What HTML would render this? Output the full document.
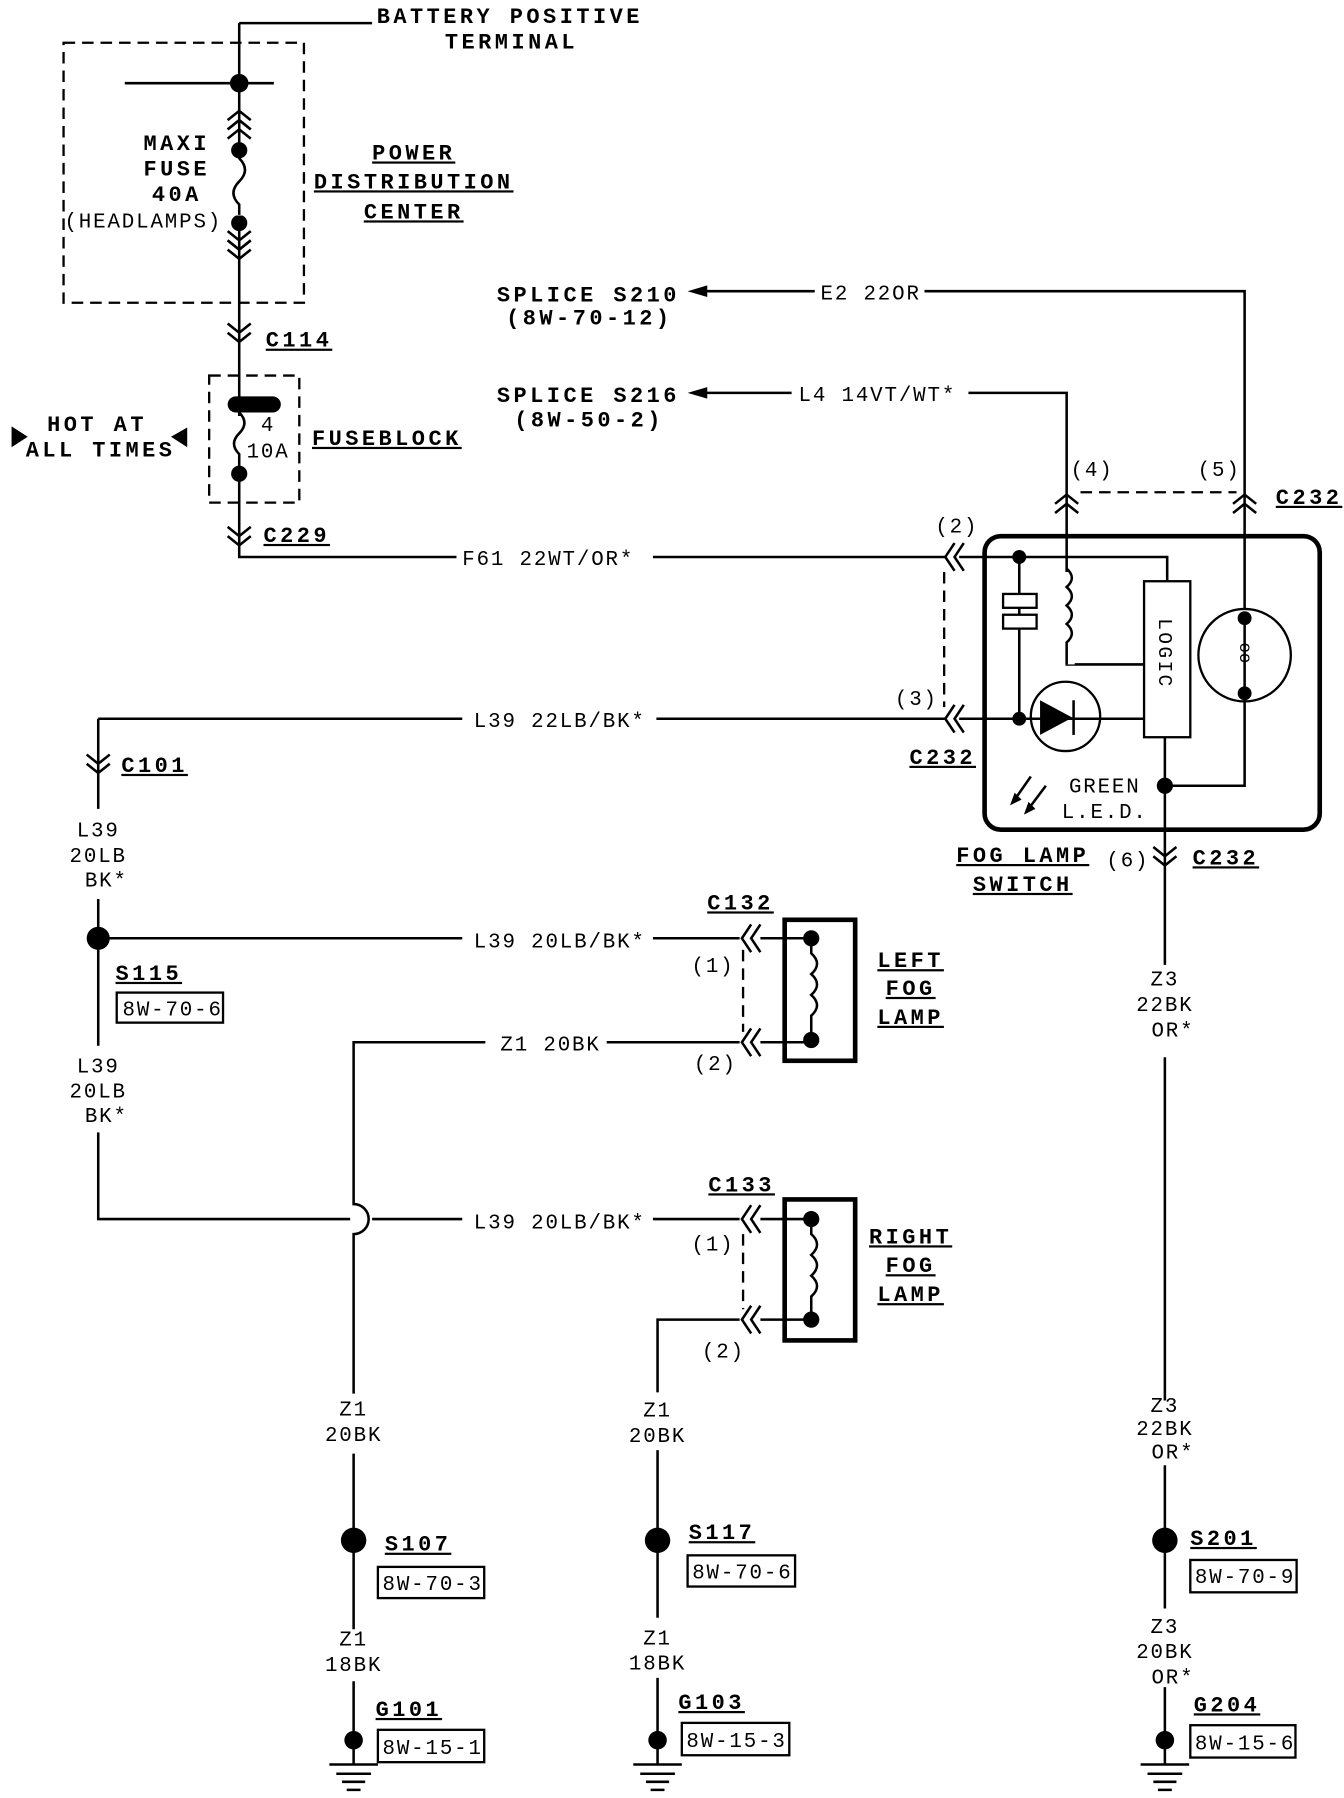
<!DOCTYPE html>
<html><head><meta charset="utf-8"><style>
html,body{margin:0;padding:0;background:#fff;}
svg{display:block;}
text{font-family:"Liberation Mono","DejaVu Sans Mono",monospace;fill:#000;}
.b{font-weight:bold;font-size:19px;letter-spacing:3px;}
.r{font-size:18px;letter-spacing:1.6px;}
.w{fill:none;stroke:#000;stroke-width:2.2;}
.d{fill:none;stroke:#000;stroke-width:2;stroke-dasharray:10 6;}
</style></head><body>
<svg width="1344" height="1798" viewBox="0 0 1163 1556" preserveAspectRatio="none" xmlns="http://www.w3.org/2000/svg">
<defs>
<g id="cd"><path class="w" d="M-10,-12 L0,-4 L10,-12 M-10,-4 L0,4 L10,-4"/></g>
<g id="cu"><path class="w" d="M-10,12 L0,4 L10,12 M-10,4 L0,-4 L10,4"/></g>
<g id="cl"><path class="w" d="M8,-12 L0,0 L8,12 M16,-12 L8,0 L16,12"/></g>
<g id="gnd"><path class="w" d="M-21,0 H21 M-15,8 H15 M-10,15 H10 M-6,22 H6" /></g>
</defs>
<path class="w" d="M207,20 H322 M207,20 V482 H395 M565,482 H818"/>
<text class="b" x="326" y="20">BATTERY POSITIVE</text>
<text class="b" x="385" y="42">TERMINAL</text>
<rect class="d" x="55" y="37" width="208" height="225"/>
<path class="w" d="M108,72 H237"/>
<circle cx="207" cy="72" r="8"/>
<use href="#cu" x="207" y="100"/><use href="#cu" x="207" y="108"/>
<circle cx="207" cy="130" r="7"/>
<circle cx="207" cy="193" r="7"/>
<path fill="#fff" stroke="#fff" d="M200,138 H214 V186 H200 Z"/>
<path class="w" d="M207,137 q10,10 0,20 q-10,10 0,20 L207,186"/>
<use href="#cd" x="207" y="212"/><use href="#cd" x="207" y="220"/>
<text class="b" x="153" y="130" text-anchor="middle">MAXI</text>
<text class="b" x="153" y="152" text-anchor="middle">FUSE</text>
<text class="b" x="153" y="174" text-anchor="middle">40A</text>
<text class="r" x="124" y="197" text-anchor="middle">(HEADLAMPS)</text>
<text class="b" x="358" y="138" text-anchor="middle" text-decoration="underline">POWER</text>
<text class="b" x="358" y="163" text-anchor="middle" text-decoration="underline">DISTRIBUTION</text>
<text class="b" x="358" y="189" text-anchor="middle" text-decoration="underline">CENTER</text>
<use href="#cd" x="207" y="292"/>
<text class="b" x="230" y="300" text-decoration="underline">C114</text>
<rect class="d" x="181" y="325" width="78" height="110"/>
<rect x="197" y="343" width="46" height="14" rx="7"/>
<rect x="200" y="360" width="14" height="42" fill="#fff"/>
<path class="w" d="M207,357 q9,9 0,18 q-9,9 0,18 L207,402"/>
<circle cx="207" cy="410" r="7"/>
<text class="r" x="232" y="373" text-anchor="middle">4</text>
<text class="r" x="232" y="396" text-anchor="middle">10A</text>
<text class="b" x="270" y="385" text-decoration="underline">FUSEBLOCK</text>
<text class="b" x="84" y="373" text-anchor="middle">HOT AT</text>
<text class="b" x="87" y="395" text-anchor="middle">ALL TIMES</text>
<path d="M10,369 L24,378 L10,387 Z"/><path d="M162,370 L148,378 L162,387 Z"/>
<use href="#cd" x="207" y="468"/>
<text class="b" x="228" y="469" text-decoration="underline">C229</text>
<text class="r" x="400" y="489">F61 22WT/OR*</text>
<text class="b" x="430" y="261">SPLICE S210</text>
<text class="b" x="438" y="281">(8W-70-12)</text>
<path d="M595,252 L612,247 L612,257 Z"/>
<path class="w" d="M600,252 H705 M800,252 H1077 V535"/>
<text class="r" x="710" y="259">E2 22OR</text>
<text class="b" x="430" y="348">SPLICE S216</text>
<text class="b" x="445" y="369">(8W-50-2)</text>
<path d="M595,340 L612,335 L612,345 Z"/>
<path class="w" d="M600,340 H685 M838,340 H923 V575 H990"/>
<text class="r" x="691" y="347">L4 14VT/WT*</text>
<text class="r" x="945" y="412" text-anchor="middle">(4)</text>
<text class="r" x="1055" y="412" text-anchor="middle">(5)</text>
<use href="#cu" x="923" y="432"/><use href="#cu" x="1077" y="432"/>
<path class="d" d="M935,426 H1070"/>
<text class="b" x="1104" y="436" text-decoration="underline">C232</text>
<rect x="852" y="464" width="290" height="254" rx="14" fill="none" stroke="#000" stroke-width="4"/>
<path class="w" d="M830,482 H1010 V503 M830,622 H990 M882,482 V622"/>
<rect x="916" y="495" width="14" height="80" fill="#fff"/>
<path class="w" d="M923,492 q9,8 0,16 q9,8 0,16 q9,8 0,16 q9,8 0,16 L923,575"/>
<rect x="868" y="514" width="29" height="12" fill="#fff" stroke="#000" stroke-width="2"/>
<rect x="868" y="532" width="29" height="12" fill="#fff" stroke="#000" stroke-width="2"/>
<circle cx="882" cy="482" r="6"/><circle cx="882" cy="622" r="6"/>
<circle cx="922" cy="620" r="30" fill="#fff" stroke="#000" stroke-width="2"/>
<path class="w" d="M892,622 H952"/>
<path d="M900,606 L900,636 L928,621 Z"/><path class="w" d="M929,606 V636"/>
<rect x="990" y="503" width="40" height="135" fill="#fff" stroke="#000" stroke-width="2"/>
<text x="1003" y="535" transform="rotate(90 1003 535)" font-size="17" letter-spacing="2">LOGIC</text>
<circle cx="1077" cy="567" r="40" fill="#fff" stroke="#000" stroke-width="2"/>
<path class="w" d="M1077,535 V600 M1077,600 V680 H1008 M1008,638 V835"/>
<circle cx="1077" cy="535" r="6"/><circle cx="1077" cy="600" r="6"/>
<text x="1066" y="571" transform="rotate(90 1077 567)" font-size="15">oo</text>
<circle cx="1008" cy="680" r="7"/>
<path class="w" d="M892,672 L878,692 M905,680 L890,700"/>
<path d="M874,697 L878,686 L884,692 Z"/><path d="M886,705 L890,694 L896,700 Z"/>
<text class="r" x="956" y="686" text-anchor="middle">GREEN</text>
<text class="r" x="956" y="708" text-anchor="middle">L.E.D.</text>
<use href="#cl" x="818" y="482"/><use href="#cl" x="818" y="622"/>
<path class="d" d="M817,495 V612"/>
<text class="r" x="828" y="461" text-anchor="middle">(2)</text>
<text class="r" x="793" y="610" text-anchor="middle">(3)</text>
<text class="b" x="787" y="661" text-decoration="underline">C232</text>
<use href="#cd" x="1008" y="745"/>
<text class="r" x="976" y="750" text-anchor="middle">(6)</text>
<text class="b" x="1032" y="748" text-decoration="underline">C232</text>
<text class="b" x="885" y="746" text-anchor="middle" text-decoration="underline">FOG LAMP</text>
<text class="b" x="885" y="771" text-anchor="middle" text-decoration="underline">SWITCH</text>
<path class="w" d="M85,622 H400 M568,622 H818 M85,622 V700"/>
<text class="r" x="410" y="629">L39 22LB/BK*</text>
<use href="#cd" x="85" y="665"/>
<text class="b" x="105" y="668" text-decoration="underline">C101</text>
<text class="r" x="85" y="724" text-anchor="middle">L39</text>
<text class="r" x="85" y="746" text-anchor="middle">20LB</text>
<text class="r" x="92" y="767" text-anchor="middle">BK*</text>
<path class="w" d="M85,778 V905 M85,980 V1055 H303 M322,1055 H400 M565,1055 H640"/>
<circle cx="85" cy="812" r="10"/>
<path class="w" d="M85,812 H400 M565,812 H640"/>
<text class="r" x="410" y="820">L39 20LB/BK*</text>
<text class="b" x="100" y="848" text-decoration="underline">S115</text>
<rect x="101" y="859" width="92" height="26" fill="none" stroke="#000" stroke-width="2"/>
<text class="r" x="106" y="879">8W-70-6</text>
<text class="r" x="85" y="928" text-anchor="middle">L39</text>
<text class="r" x="85" y="950" text-anchor="middle">20LB</text>
<text class="r" x="92" y="971" text-anchor="middle">BK*</text>
<text class="r" x="410" y="1063">L39 20LB/BK*</text>
<path class="w" d="M420,902 H306 V1042 A13,13 0 0 1 306,1068 V1206 M525,902 H640"/>
<text class="r" x="433" y="909">Z1 20BK</text>
<text class="r" x="306" y="1225" text-anchor="middle">Z1</text>
<text class="r" x="306" y="1247" text-anchor="middle">20BK</text>
<path class="w" d="M306,1258 V1410 M306,1455 V1527"/>
<circle cx="306" cy="1333" r="11"/>
<text class="b" x="333" y="1342" text-decoration="underline">S107</text>
<rect x="327" y="1356" width="92" height="27" fill="none" stroke="#000" stroke-width="2"/>
<text class="r" x="331" y="1376">8W-70-3</text>
<text class="r" x="306" y="1424" text-anchor="middle">Z1</text>
<text class="r" x="306" y="1446" text-anchor="middle">18BK</text>
<circle cx="306" cy="1506" r="8"/>
<text class="b" x="325" y="1485" text-decoration="underline">G101</text>
<rect x="327" y="1497" width="92" height="28" fill="none" stroke="#000" stroke-width="2"/>
<text class="r" x="331" y="1518">8W-15-1</text>
<use href="#gnd" x="306" y="1527"/>
<text class="b" x="612" y="787" text-decoration="underline">C132</text>
<use href="#cl" x="642" y="812"/><use href="#cl" x="642" y="902"/>
<path class="d" d="M643,822 V893"/>
<text class="r" x="617" y="841" text-anchor="middle">(1)</text>
<text class="r" x="619" y="926" text-anchor="middle">(2)</text>
<rect x="679" y="796" width="61" height="122" fill="none" stroke="#000" stroke-width="4"/>
<path class="w" d="M658,812 H702 M658,902 H702"/>
<circle cx="702" cy="812" r="7"/><circle cx="702" cy="900" r="7"/>
<path class="w" d="M702,812 V825 q10,9 0,18 q10,9 0,18 q10,9 0,18 V900"/>
<text class="b" x="788" y="837" text-anchor="middle" text-decoration="underline">LEFT</text>
<text class="b" x="788" y="861" text-anchor="middle" text-decoration="underline">FOG</text>
<text class="b" x="788" y="886" text-anchor="middle" text-decoration="underline">LAMP</text>
<text class="b" x="613" y="1031" text-decoration="underline">C133</text>
<use href="#cl" x="642" y="1055"/><use href="#cl" x="642" y="1142"/>
<path class="d" d="M643,1068 V1133"/>
<text class="r" x="617" y="1082" text-anchor="middle">(1)</text>
<text class="r" x="626" y="1175" text-anchor="middle">(2)</text>
<rect x="679" y="1038" width="61" height="122" fill="none" stroke="#000" stroke-width="4"/>
<path class="w" d="M658,1055 H702 M658,1142 H702"/>
<circle cx="702" cy="1055" r="7"/><circle cx="702" cy="1142" r="7"/>
<path class="w" d="M702,1055 V1068 q10,9 0,18 q10,9 0,18 q10,9 0,18 V1142"/>
<text class="b" x="788" y="1076" text-anchor="middle" text-decoration="underline">RIGHT</text>
<text class="b" x="788" y="1101" text-anchor="middle" text-decoration="underline">FOG</text>
<text class="b" x="788" y="1126" text-anchor="middle" text-decoration="underline">LAMP</text>
<path class="w" d="M640,1142 H569 V1205 M569,1255 V1400 M569,1452 V1527"/>
<text class="r" x="569" y="1226" text-anchor="middle">Z1</text>
<text class="r" x="569" y="1248" text-anchor="middle">20BK</text>
<circle cx="569" cy="1333" r="11"/>
<text class="b" x="596" y="1332" text-decoration="underline">S117</text>
<rect x="595" y="1346" width="93" height="27" fill="none" stroke="#000" stroke-width="2"/>
<text class="r" x="599" y="1366">8W-70-6</text>
<text class="r" x="569" y="1423" text-anchor="middle">Z1</text>
<text class="r" x="569" y="1445" text-anchor="middle">18BK</text>
<circle cx="569" cy="1506" r="8"/>
<text class="b" x="587" y="1479" text-decoration="underline">G103</text>
<rect x="590" y="1491" width="93" height="28" fill="none" stroke="#000" stroke-width="2"/>
<text class="r" x="594" y="1512">8W-15-3</text>
<use href="#gnd" x="569" y="1527"/>
<text class="r" x="1008" y="853" text-anchor="middle">Z3</text>
<text class="r" x="1008" y="875" text-anchor="middle">22BK</text>
<text class="r" x="1015" y="897" text-anchor="middle">OR*</text>
<path class="w" d="M1008,915 V1212 M1008,1268 V1392 M1008,1460 V1527"/>
<text class="r" x="1008" y="1222" text-anchor="middle">Z3</text>
<text class="r" x="1008" y="1242" text-anchor="middle">22BK</text>
<text class="r" x="1015" y="1262" text-anchor="middle">OR*</text>
<circle cx="1008" cy="1333" r="11"/>
<text class="b" x="1030" y="1337" text-decoration="underline">S201</text>
<rect x="1030" y="1350" width="92" height="28" fill="none" stroke="#000" stroke-width="2"/>
<text class="r" x="1034" y="1370">8W-70-9</text>
<text class="r" x="1008" y="1413" text-anchor="middle">Z3</text>
<text class="r" x="1008" y="1435" text-anchor="middle">20BK</text>
<text class="r" x="1015" y="1457" text-anchor="middle">OR*</text>
<circle cx="1008" cy="1506" r="8"/>
<text class="b" x="1033" y="1481" text-decoration="underline">G204</text>
<rect x="1030" y="1493" width="91" height="28" fill="none" stroke="#000" stroke-width="2"/>
<text class="r" x="1034" y="1514">8W-15-6</text>
<use href="#gnd" x="1008" y="1527"/>
</svg>
</body></html>
